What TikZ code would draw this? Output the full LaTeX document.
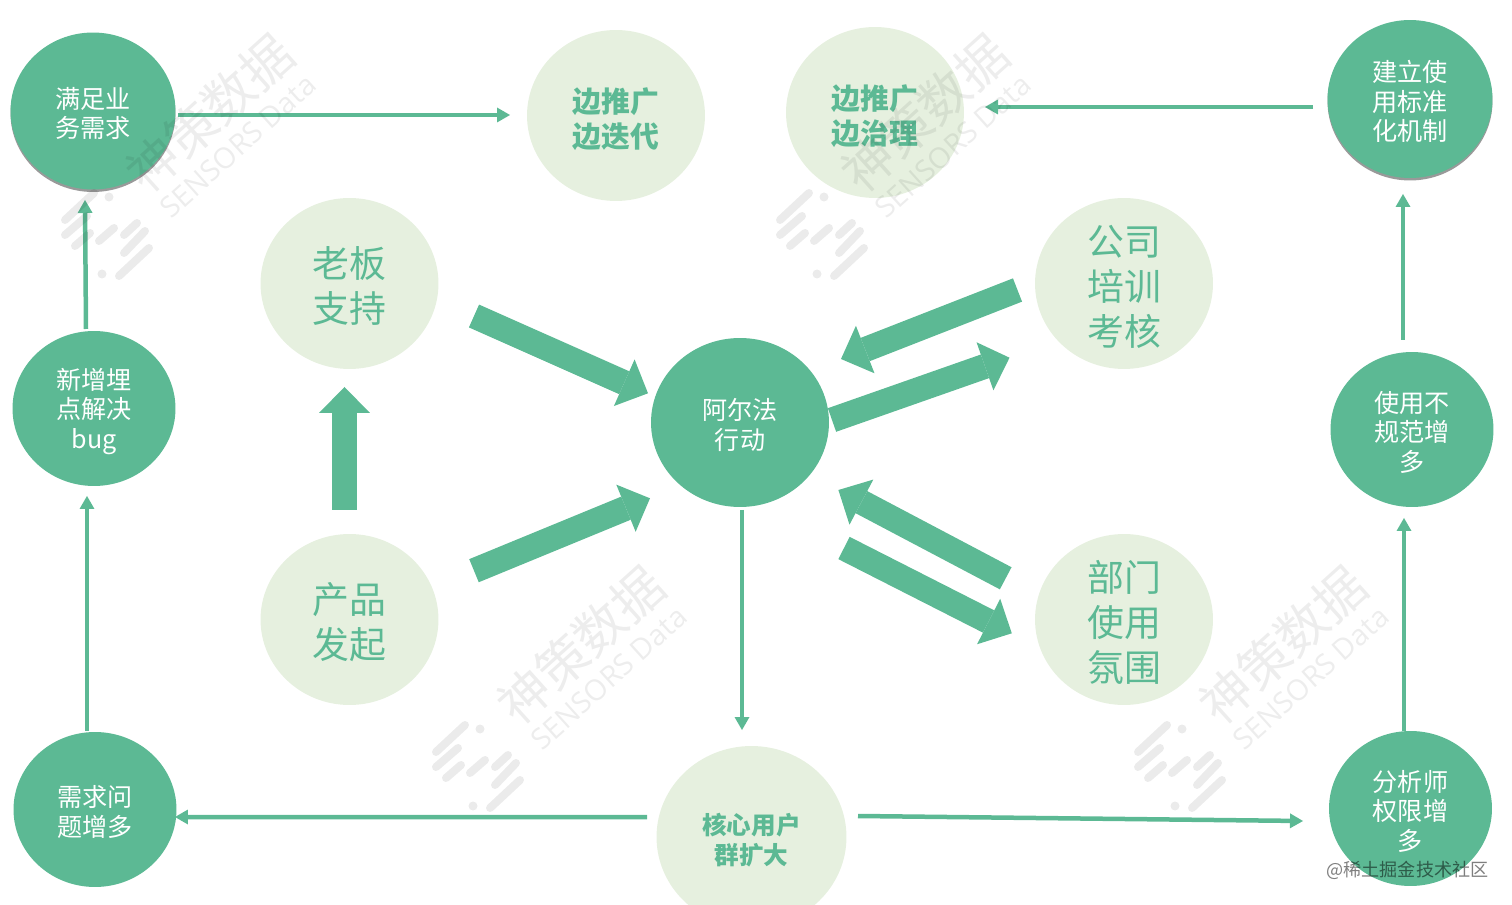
\documentclass[tikz,border=0pt]{standalone}
\usepackage{fontspec}
\setmainfont{Noto Sans CJK SC}
\newfontfamily\wmlatin{Open Sans}
\usepackage{tikz}
\usetikzlibrary{arrows.meta,calc,shapes.geometric,shadows}
\definecolor{leafgreen}{HTML}{5CB994}
\definecolor{paleleaf}{HTML}{E6F0DF}
\newcommand{\toprow}[1][2.4pt]{\rule{0pt}{\dimexpr.88em+#1\relax}}
\tikzset{
    darkdot/.style={ellipse,fill=leafgreen,text=white,inner sep=-0.5cm,align=center,
        minimum width=3.26cm,minimum height=3.1cm,font=\fontsize{14.3}{16.8}\selectfont},
    paledot/.style={ellipse,fill=paleleaf,text=leafgreen,inner sep=-0.5cm,align=center,
        minimum width=3.56cm,minimum height=3.42cm},
    bigtext/.style={font=\fontsize{21}{25.6}\selectfont},
    boldtext/.style={font=\fontsize{16.4}{20}\selectfont\bfseries},
    softshadow/.style={drop shadow={shadow xshift=0pt,shadow yshift=-0.05cm,fill=black,opacity=0.4}},
    thinarrow/.style={draw=leafgreen,line width=0.09cm,-{Triangle[width=0.3cm,length=0.26cm,line width=0pt]}},
    fatarrow/.style={draw=leafgreen,line width=0.5cm,-{Triangle[width=1.02cm,length=0.52cm,line width=0pt]}},
    wmtext/.style={text=black,text opacity=0.07,rotate=42,inner sep=0pt},
    wmstroke/.style={draw=black,draw opacity=0.08,line width=0.16cm,line cap=round}
}
\begin{document}
\begin{tikzpicture}[x=0.02cm,y=-0.02cm]
        \useasboundingbox (0,0) rectangle (1512,905);
        % Dark circles
        \node [darkdot,softshadow,minimum width=3.3cm,minimum height=3.14cm] (goal) at (93,111) {\toprow 满足业\\务需求};
        \node [darkdot,softshadow,minimum width=3.3cm,minimum height=3.16cm] (rule) at (1410,99) {\toprow 建立使\\用标准\\化机制};
        \node [darkdot] (bug) at (94,408.5) {\toprow 新增埋\\点解决\\bug};
        \node [darkdot] (misuse) at (1412,429.5) {\toprow 使用不\\规范增\\多};
        \node [darkdot] (need) at (95,809.5) {\toprow 需求问\\题增多};
        \node [darkdot] (analyst) at (1410.5,808.5) {\toprow 分析师\\权限增\\多};
        \node [darkdot,minimum width=3.56cm,minimum height=3.38cm] (alpha) at (740,422.5) {\toprow 阿尔法\\行动};
        % Pale circles
        \node [paledot,boldtext] (iterate) at (616,115.5) {\toprow[3.4pt]边推广\\边迭代};
        \node [paledot,boldtext] (govern) at (875,112.5) {\toprow[3.4pt]边推广\\边治理};
        \node [paledot,bigtext] (boss) at (349.5,283.5) {\toprow 老板\\支持};
        \node [paledot,bigtext] (product) at (349.5,619.5) {\toprow 产品\\发起};
        \node [paledot,bigtext] (company) at (1124,283.5) {\toprow 公司\\培训\\考核};
        \node [paledot,bigtext] (dept) at (1124,619.5) {\toprow 部门\\使用\\氛围};
        \node [paledot,minimum width=3.8cm,minimum height=3.64cm,font=\fontsize{14}{17}\selectfont\bfseries] (core) at (751.5,837) {\toprow[3.4pt]核心用户\\群扩大};
        % Thin arrows
        \draw [thinarrow] ($(goal)+(85,4)$) -- ($(iterate)+(-106,-0.5)$);
        \draw [thinarrow] ($(rule)+(-97,8)$) -- ($(govern)+(110,-5.5)$);
        \draw [thinarrow] ($(bug)+(-8,-79.5)$) -- ($(goal)+(-8,89)$);
        \draw [thinarrow] ($(need)+(-8,-78.5)$) -- ($(bug)+(-7,87.5)$);
        \draw [thinarrow] ($(misuse)+(-9,-89.5)$) -- ($(rule)+(-7,95)$);
        \draw [thinarrow] ($(analyst)+(-6.5,-77.5)$) -- ($(misuse)+(-8,88.5)$);
        \draw [thinarrow] ($(alpha)+(2,87.5)$) -- ($(core)+(-9.5,-107)$);
        \draw [thinarrow] ($(core)+(-104.5,-20)$) -- ($(need)+(80,7.5)$);
        \draw [thinarrow] ($(core)+(106.5,-21)$) -- ($(analyst)+(-107.5,12.5)$);
        % Fat arrows
        \draw [fatarrow] ($(boss)+(124.5,32.5)$) -- ($(alpha)+(-92,-29.2)$);
        \draw [fatarrow] ($(product)+(124.5,-48.8)$) -- ($(alpha)+(-90,75.8)$);
        \draw [fatarrow] ($(company)+(-106.5,6.5)$) -- ($(alpha)+(101,-63.5)$);
        \draw [fatarrow] ($(alpha)+(92,-2.5)$) -- ($(company)+(-114.5,74.2)$);
        \draw [fatarrow] ($(dept)+(-118.3,-41.2)$) -- ($(alpha)+(98.4,67.5)$);
        \draw [fatarrow] ($(alpha)+(104,125.5)$) -- ($(dept)+(-112.2,13.8)$);
        \draw [fatarrow] ($(product)+(-5,-109.5)$) -- ($(boss)+(-5,103.5)$);
        % Watermarks
        \foreach \x/\y/\i in {107/236/0, 822/236/1, 478/768/2, 1180/768/3} {
            \node [wmtext,font=\fontsize{29}{29}\selectfont] (wmcn\i) at (\x+103,\y-123) {神策数据};
            \node [wmtext,font=\fontsize{16.5}{16.5}\selectfont\wmlatin] (wmen\i) at (\x+131,\y-90) {SENSORS Data};
            \foreach \ax/\ay/\bx/\by in {-42/-16/-13/-43, -42/-1/-20/-20, -32/10/-17/-3, -8/5/7/-8, 17/-1/30/-13, 17/17/38/-5, 12/40/42/12} {
                \draw [wmstroke] (\x+\ax,\y+\ay) -- (\x+\bx,\y+\by);
            }
            \fill [black,fill opacity=0.08] (\x+2,\y-39) circle (4.5);
            \fill [black,fill opacity=0.08] (\x-5,\y+38) circle (4.5);
        }
        % Site mark
        \node [text=black,text opacity=0.5,inner sep=0pt,font=\fontsize{10.3}{12}\selectfont] (site) at (1407.5,870) {@稀土掘金技术社区};
\end{tikzpicture}
\end{document}
